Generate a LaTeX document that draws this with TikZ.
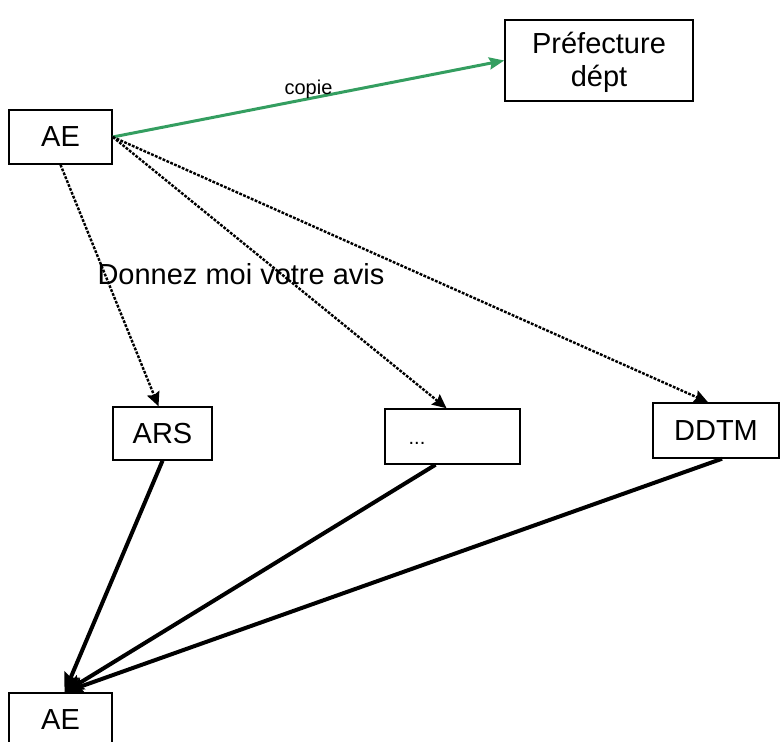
\documentclass[tikz,border=0pt]{standalone}
\usepackage{fontspec}
\setmainfont{Liberation Sans}
\usepackage{xcolor}
\usepackage{tikz}
\usetikzlibrary{arrows.meta, positioning, calc}
\definecolor{copiegreen}{RGB}{52,158,96}

\begin{document}
\begin{tikzpicture}[
    x=0.5pt, y=-0.5pt,
    box/.style={rectangle, draw, line width=0.75pt, inner sep=0pt, align=center, font=\fontsize{14.5}{16.5}\selectfont},
    avis/.style={-{Stealth[length=7pt, width=6.5pt, inset=1pt]}, line width=1.2pt, dash pattern=on 1.4pt off 0.7pt},
    reponse/.style={-{Stealth[length=9.5pt, width=8pt, inset=1.5pt]}, line width=2pt},
    copie/.style={-{Stealth[length=7.5pt, width=6pt, inset=1pt]}, line width=1.5pt, copiegreen},
    label/.style={font=\fontsize{14.5}{17.5}\selectfont}
]
\useasboundingbox (0,0) rectangle (781,742);

\node[box, minimum width=51.5pt, minimum height=27pt] (ae) at (60.5,137) {AE};
\node[box, minimum width=94pt, minimum height=40.5pt] (pref) at (599,60.5) {};
\node[box, draw=none] (preftext) at (599,62.5) {Préfecture\\dépt};
\node[box, minimum width=49.5pt, minimum height=26.5pt] (ars) at (162.5,433.5) {ARS};
\node[box, minimum width=67.5pt, minimum height=27.5pt] (autres) at (452.5,436.5) {};
\node[label, font=\fontsize{10}{12}\selectfont] (dots) at (417,443) {...};
\node[box, minimum width=63pt, minimum height=27.5pt] (ddtm) at (716,430.5) {DDTM};
\node[box, minimum width=51.5pt, minimum height=27pt] (aefin) at (60.5,720) {AE};

\draw[copie] (ae.east) -- (pref.west) node[pos=0.5, above=-4pt, black, font=\fontsize{10}{12}\selectfont] {copie};

\draw[avis] (ae.south) -- ([xshift=-2pt]ars.north);
\draw[avis] (ae.east) -- ([xshift=-3pt]autres.north);
\draw[avis] (ae.east) -- ([xshift=-4pt]ddtm.north);
\node[label] (demande) at (241,274) {Donnez moi votre avis};

\draw[reponse] (ars.south) -- ([xshift=2pt]aefin.north);
\draw[reponse] ([xshift=-8.5pt]autres.south) -- ([xshift=2pt]aefin.north);
\draw[reponse] ([xshift=3pt]ddtm.south) -- ([xshift=2pt]aefin.north);

\end{tikzpicture}
\end{document}
